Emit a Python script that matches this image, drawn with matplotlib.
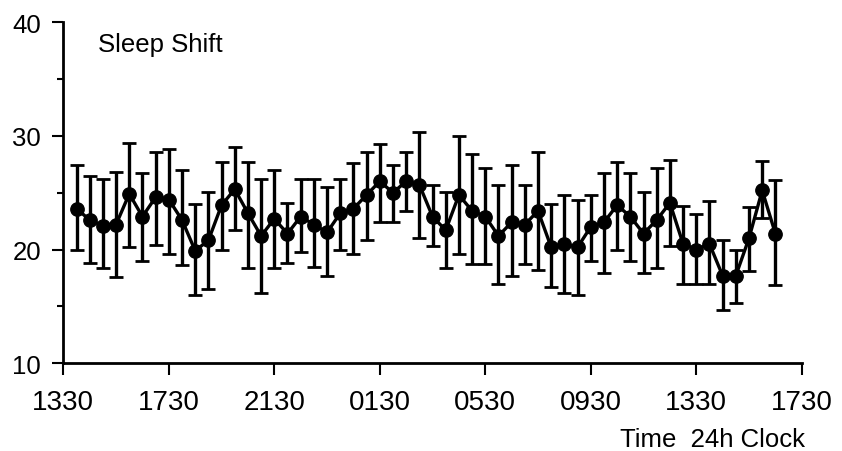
import numpy as np
import matplotlib.pyplot as plt
from matplotlib.ticker import MultipleLocator

plt.rcParams['font.family'] = ['Liberation Sans', 'DejaVu Sans']

# sampling times (24h clock), one every half hour starting 1400
times = [
    "1400", "1430", "1500", "1530", "1600", "1630", "1700", "1730",
    "1800", "1830", "1900", "1930", "2000", "2030", "2100", "2130",
    "2200", "2230", "2300", "2330", "0000", "0030", "0100", "0130",
    "0200", "0230", "0300", "0330", "0400", "0430", "0500", "0530",
    "0600", "0630", "0700", "0730", "0800", "0830", "0900", "0930",
    "1000", "1030", "1100", "1130", "1200", "1230", "1300", "1330",
    "1400", "1430", "1500", "1530", "1600", "1630",
]

means = [
    23.6, 22.6, 22.1, 22.2, 24.9, 22.9, 24.6, 24.4, 22.6, 19.9,
    20.8, 23.9, 25.3, 23.2, 21.2, 22.7, 21.4, 22.9, 22.2, 21.5,
    23.2, 23.6, 24.8, 26.0, 25.0, 26.0, 25.7, 22.9, 21.7, 24.8,
    23.4, 22.9, 21.2, 22.4, 22.2, 23.4, 20.2, 20.5, 20.2, 22.0,
    22.4, 23.9, 22.9, 21.4, 22.6, 24.1, 20.5, 20.0, 20.5, 17.7,
    17.7, 21.0, 25.2, 21.4,
]

upper = [
    27.4, 26.5, 26.2, 26.8, 29.4, 26.7, 28.6, 28.8, 27.0, 24.0,
    25.1, 27.7, 29.0, 27.7, 26.2, 27.0, 24.1, 26.2, 26.2, 25.5,
    26.2, 27.6, 28.6, 29.3, 27.4, 28.6, 30.3, 25.7, 25.1, 30.0,
    28.4, 27.2, 25.7, 27.4, 25.7, 28.6, 24.0, 24.8, 24.4, 24.8,
    26.7, 27.7, 26.7, 25.1, 27.2, 27.9, 23.8, 23.1, 24.3, 20.8,
    20.0, 23.7, 27.8, 26.1,
]

lower = [
    20.0, 18.8, 18.4, 17.6, 20.2, 19.0, 20.4, 19.6, 18.6, 16.0,
    16.5, 20.0, 21.7, 18.4, 16.2, 18.4, 18.8, 19.8, 18.5, 17.7,
    20.0, 19.6, 20.8, 22.4, 22.4, 23.4, 21.0, 20.3, 18.4, 19.6,
    18.7, 18.7, 17.0, 17.7, 18.7, 18.2, 16.7, 16.2, 16.0, 19.0,
    17.9, 20.0, 19.0, 17.9, 18.4, 20.3, 17.0, 17.0, 17.0, 14.7,
    15.3, 18.1, 22.8, 16.9,
]

tick_labels = ["1330", "1730", "2130", "0130", "0530", "0930", "1330", "1730"]
start = "1330"


def clock_hours(t):
    return int(t[:2]) + int(t[2:]) / 60.0


def elapsed(labels):
    # hours since the 1330 start, rolling over midnight
    out = []
    offset = 0.0
    prev = None
    for t in labels:
        h = (clock_hours(t) - clock_hours(start)) % 24 + offset
        if prev is not None and h <= prev:
            offset += 24
            h += 24
        out.append(h)
        prev = h
    return np.array(out)


x = elapsed(times)
xt = elapsed(tick_labels)
xt[0] = 0.0

means = np.array(means)
yerr = np.vstack([means - np.array(lower), np.array(upper) - means])

fig = plt.figure(figsize=(8.42, 4.52), dpi=100)
ax = fig.add_axes([0.0752, 0.194, 0.877, 0.755])

ax.errorbar(
    x, means, yerr=yerr,
    color='black', lw=2.4, elinewidth=2.4,
    capsize=4.7, capthick=2.0,
    marker='o', markersize=9.6, markerfacecolor='black', markeredgecolor='black',
)

ax.set_xlim(0, 28)
ax.set_ylim(10, 40)

ax.set_xticks(xt)
ax.set_xticklabels(tick_labels, fontsize=20)
ax.set_yticks([10, 20, 30, 40])
ax.set_yticklabels(["10", "20", "30", "40"], fontsize=18.5)
ax.yaxis.set_minor_locator(MultipleLocator(5))

for side in ['top', 'right']:
    ax.spines[side].set_visible(False)
for side in ['left', 'bottom']:
    ax.spines[side].set_linewidth(2.0)

ax.tick_params(axis='x', direction='out', length=8.5, width=1.5, pad=10)
ax.tick_params(axis='y', which='major', direction='out', length=8, width=1.5, pad=8)
ax.tick_params(axis='y', which='minor', direction='out', length=4, width=1.5)

ax.text(0.047, 0.915, "Sleep Shift", transform=ax.transAxes,
        fontsize=18.5, ha='left', va='baseline')
fig.text(805 / 842, 0.012, "Time  24h Clock", fontsize=18.5,
         ha='right', va='baseline')

fig.savefig("out.png", dpi=100)
